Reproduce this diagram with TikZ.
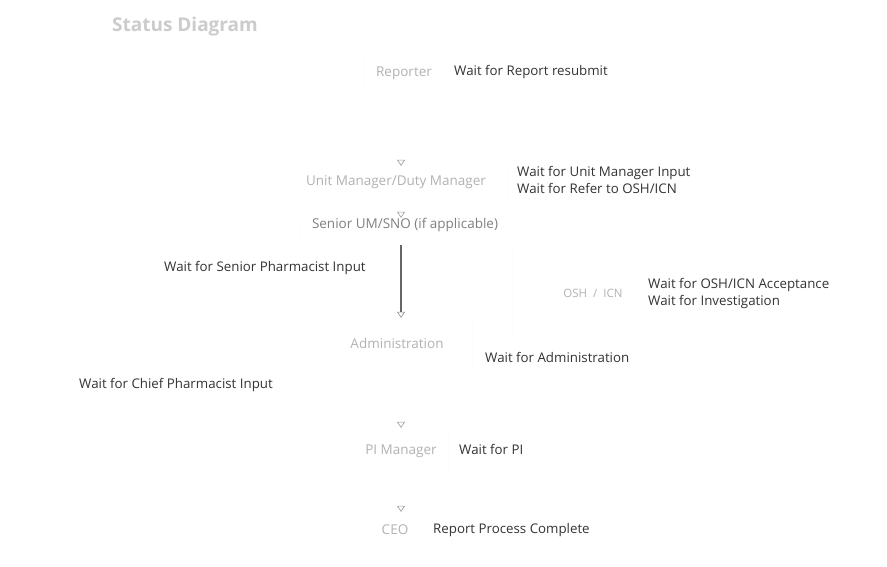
\documentclass[tikz,border=0pt]{standalone}
\usepackage{fontspec}
\setmainfont{Open Sans}
\usetikzlibrary{arrows.meta}
\begin{document}
\begin{tikzpicture}[x=1pt,y=-1pt,
  box/.style={draw=black!0.7, fill=white, inner sep=0pt},
  ntext/.style={text=black!30, font=\fontsize{13.5}{15}\selectfont, inner sep=0pt},
  wait/.style={text=black!80, font=\fontsize{13.3}{17}\selectfont, anchor=west, align=left, inner sep=0pt},
  conn/.style={draw=white, line width=1pt, -{Triangle[open, length=6pt, width=8pt, line width=0.6pt, color=black!40]}},
  vconn/.style={draw=black!60, line width=1.1pt, -{Triangle[open, length=6pt, width=8pt, line width=0.6pt, color=black!45]}}]
\path[fill=white, use as bounding box] (0,0) rectangle (887,567);
\coordinate (ax) at (401,0);

\node[text=black!20, font=\bfseries\fontsize{19}{22}\selectfont, inner sep=0pt] (title) at (185,27) {Status Diagram};

\node[box, minimum width=86pt, minimum height=40pt] (rep) at (407,73) {};
\node[ntext] (repT) at (404,73) {Reporter};

\node[box, minimum width=214pt, minimum height=40pt] (um) at (401,184) {};
\node[ntext] (umT) at (396,182) {Unit Manager/Duty Manager};

\node[box, minimum width=210pt, minimum height=28pt] (sen) at (405,232) {};
\node[text=black!50, font=\fontsize{13.5}{15}\selectfont, inner sep=0pt] (senT) at (405,225) {Senior UM/SNO (if applicable)};

\node[box, minimum width=142pt, minimum height=50pt] (adm) at (401,343) {};
\node[ntext] (admT) at (397,343) {Administration};

\node[box, minimum width=162pt, minimum height=98pt] (osh) at (593,293) {};
\node[ntext, font=\fontsize{11.5}{13}\selectfont] (oshT) at (593,293) {OSH\ \ /\ \ ICN};

\node[box, minimum width=95pt, minimum height=50pt] (pi) at (401,451) {};
\node[ntext] (piT) at (401,451) {PI Manager};

\node[box, minimum width=61pt, minimum height=38pt] (ceo) at (396,530) {};
\node[ntext] (ceoT) at (395,530) {CEO};

\draw[conn] (rep.south -| ax) -- ([yshift=-2pt]um.north -| ax);
\draw[conn] (um.south -| ax) -- (sen.north -| ax);
\draw[vconn] ([yshift=1pt]sen.south -| ax) -- (adm.north -| ax);
\draw[conn] (adm.south -| ax) -- ([yshift=-2pt]pi.north -| ax);
\draw[conn] (pi.south -| ax) -- ([yshift=-1pt]ceo.north -| ax);

\node[wait] (w1) at (454,72) {Wait for Report resubmit};
\node[wait] (w2) at (517,179.5) {Wait for Unit Manager Input\\Wait for Refer to OSH/ICN};
\node[wait] (w3) at (164,268) {Wait for Senior Pharmacist Input};
\node[wait] (w4) at (648,293.5) {Wait for OSH/ICN Acceptance\\Wait for Investigation};
\node[wait] (w5) at (485,357) {Wait for Administration};
\node[wait] (w6) at (79,385) {Wait for Chief Pharmacist Input};
\node[wait] (w7) at (459,449) {Wait for PI};
\node[wait] (w8) at (433,530) {Report Process Complete};
\end{tikzpicture}
\end{document}
